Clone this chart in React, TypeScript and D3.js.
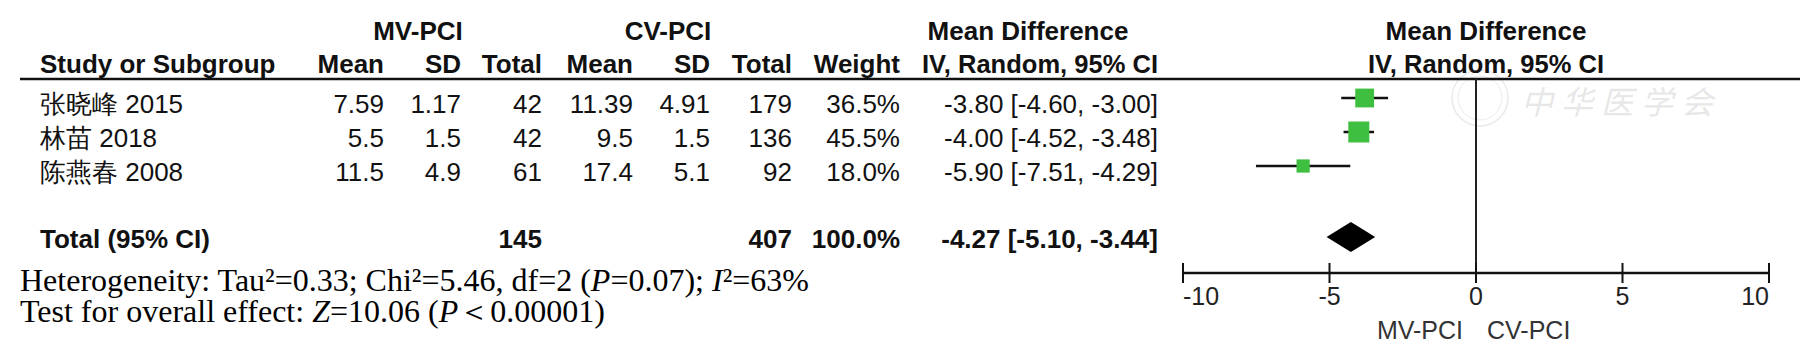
import React from "react";
import * as d3 from "d3";

const studies = ["张晓峰 2015", "林苗 2018", "陈燕春 2008"];
const mvMean = [7.59, 5.5, 11.5];
const mvSD = [1.17, 1.5, 4.9];
const mvTotal = [42, 42, 61];
const cvMean = [11.39, 9.5, 17.4];
const cvSD = [4.91, 1.5, 5.1];
const cvTotal = [179, 136, 92];
const weights = [36.5, 45.5, 18.0];
const md = [-3.8, -4.0, -5.9];
const ciLow = [-4.6, -4.52, -7.51];
const ciHigh = [-3.0, -3.48, -4.29];
const totalMv = 145;
const totalCv = 407;
const totalWeight = 100.0;
const pooled = -4.27;
const pooledLow = -5.1;
const pooledHigh = -3.44;
const ticks = [-10, -5, 0, 5, 10];

const W = 1807;
const H = 357;
const SANS = "'Liberation Sans', Arial, sans-serif";
const SERIF = "'Liberation Serif', 'Times New Roman', serif";

const fmt2 = (v: number) => v.toFixed(2);
const ciText = (m: number, l: number, h: number) => `${fmt2(m)} [${fmt2(l)}, ${fmt2(h)}]`;

export default function App() {
  const x = d3.scaleLinear().domain([-10, 10]).range([1183, 1769]);
  const size = d3.scaleSqrt().domain([0, 45.5]).range([0, 21]);
  const rowY = d3.scaleLinear().domain([0, 1]).range([113, 147]);
  const markOffset = -15;

  const colRight = { mvMean: 384, mvSD: 461, mvTotal: 542, cvMean: 633, cvSD: 710, cvTotal: 792, weight: 900, ci: 1158 };
  const fs = 26;
  const txt = { fontFamily: SANS, fontSize: fs, fill: "#111" } as const;
  const bold = { ...txt, fontWeight: 700 } as const;

  const axisY = 273;
  const lineTop = 79;
  const totalY = 248;

  return (
    <svg width={W} height={H} style={{ position: "absolute", left: 0, top: 0, background: "#fff" }}>
      <rect x={0} y={0} width={W} height={H} fill="#fff" />
      {/* watermark */}
      <g opacity={0.15}>
        <circle cx={1480} cy={98} r={28} fill="none" stroke="#777" strokeWidth={1.5} />
        <circle cx={1480} cy={98} r={22} fill="none" stroke="#777" strokeWidth={1} />
        <text x={1521} y={114} fontFamily="'Noto Sans CJK SC'" fontSize={32} fontStyle="italic" fill="#666" letterSpacing={8}>中华医学会</text>
      </g>

      {/* headers row 1 */}
      <text x={418} y={40} textAnchor="middle" {...bold}>MV-PCI</text>
      <text x={668} y={40} textAnchor="middle" {...bold}>CV-PCI</text>
      <text x={1028} y={40} textAnchor="middle" {...bold}>Mean Difference</text>
      <text x={1486} y={40} textAnchor="middle" {...bold}>Mean Difference</text>

      {/* headers row 2 */}
      <text x={40} y={73} {...bold}>Study or Subgroup</text>
      <text x={colRight.mvMean} y={73} textAnchor="end" {...bold}>Mean</text>
      <text x={colRight.mvSD} y={73} textAnchor="end" {...bold}>SD</text>
      <text x={colRight.mvTotal} y={73} textAnchor="end" {...bold}>Total</text>
      <text x={colRight.cvMean} y={73} textAnchor="end" {...bold}>Mean</text>
      <text x={colRight.cvSD} y={73} textAnchor="end" {...bold}>SD</text>
      <text x={colRight.cvTotal} y={73} textAnchor="end" {...bold}>Total</text>
      <text x={colRight.weight} y={73} textAnchor="end" {...bold}>Weight</text>
      <text x={colRight.ci - 236} y={73} textLength={236} lengthAdjust="spacingAndGlyphs" {...bold}>IV, Random, 95% CI</text>
      <text x={1486 - 118} y={73} textLength={236} lengthAdjust="spacingAndGlyphs" {...bold}>IV, Random, 95% CI</text>

      <line x1={20} x2={1800} y1={lineTop} y2={lineTop} stroke="#111" strokeWidth={2.5} />

      {/* study rows */}
      {studies.map((s, i) => {
        const y = rowY(i);
        const half = size(weights[i]) / 2;
        const cy = y + markOffset;
        return (
          <g key={s}>
            <text x={40} y={y} {...txt}>{s}</text>
            <text x={colRight.mvMean} y={y} textAnchor="end" {...txt}>{String(mvMean[i])}</text>
            <text x={colRight.mvSD} y={y} textAnchor="end" {...txt}>{String(mvSD[i])}</text>
            <text x={colRight.mvTotal} y={y} textAnchor="end" {...txt}>{String(mvTotal[i])}</text>
            <text x={colRight.cvMean} y={y} textAnchor="end" {...txt}>{String(cvMean[i])}</text>
            <text x={colRight.cvSD} y={y} textAnchor="end" {...txt}>{String(cvSD[i])}</text>
            <text x={colRight.cvTotal} y={y} textAnchor="end" {...txt}>{String(cvTotal[i])}</text>
            <text x={colRight.weight} y={y} textAnchor="end" {...txt}>{weights[i].toFixed(1) + "%"}</text>
            <text x={colRight.ci} y={y} textAnchor="end" {...txt}>{ciText(md[i], ciLow[i], ciHigh[i])}</text>
            <line x1={x(ciLow[i])} x2={x(ciHigh[i])} y1={cy} y2={cy} stroke="#111" strokeWidth={2.5} />
            <rect x={x(md[i]) - half} y={cy - half} width={half * 2} height={half * 2} fill="#3fbf3f" />
          </g>
        );
      })}

      {/* total row */}
      <text x={40} y={totalY} {...bold}>Total (95% CI)</text>
      <text x={colRight.mvTotal} y={totalY} textAnchor="end" {...bold}>{String(totalMv)}</text>
      <text x={colRight.cvTotal} y={totalY} textAnchor="end" {...bold}>{String(totalCv)}</text>
      <text x={colRight.weight} y={totalY} textAnchor="end" {...bold}>{totalWeight.toFixed(1) + "%"}</text>
      <text x={colRight.ci} y={totalY} textAnchor="end" {...bold}>{ciText(pooled, pooledLow, pooledHigh)}</text>
      <path
        d={`M${x(pooledLow)},237 L${x(pooled)},222 L${x(pooledHigh)},237 L${x(pooled)},252 Z`}
        fill="#000"
      />

      {/* footer */}
      <text x={20} y={291} fontFamily={SERIF} fontSize={32} fill="#000">
        Heterogeneity: Tau²=0.33; Chi²=5.46, df=2 (<tspan fontStyle="italic">P</tspan>=0.07); <tspan fontStyle="italic">I</tspan>²=63%
      </text>
      <text x={20} y={322} fontFamily={SERIF} fontSize={32} fill="#000">
        Test for overall effect: <tspan fontStyle="italic">Z</tspan>=10.06 (<tspan fontStyle="italic">P</tspan>＜0.00001)
      </text>

      {/* zero line */}
      <line x1={x(0)} x2={x(0)} y1={lineTop} y2={axisY + 10} stroke="#222" strokeWidth={2} />

      {/* axis */}
      <line x1={x(-10)} x2={x(10)} y1={axisY} y2={axisY} stroke="#111" strokeWidth={2.5} />
      {ticks.map((t, i) => (
        <g key={t}>
          <line x1={x(t)} x2={x(t)} y1={axisY - 10} y2={axisY + 10} stroke="#111" strokeWidth={2} />
          <text
            x={x(t)}
            y={305}
            textAnchor={i === 0 ? "start" : i === ticks.length - 1 ? "end" : "middle"}
            fontFamily={SANS}
            fontSize={25}
            fill="#222"
          >
            {String(t)}
          </text>
        </g>
      ))}
      <text x={x(0) - 13} y={339} textAnchor="end" fontFamily={SANS} fontSize={25} fill="#333">MV-PCI</text>
      <text x={x(0) + 11} y={339} textAnchor="start" fontFamily={SANS} fontSize={25} fill="#333">CV-PCI</text>
    </svg>
  );
}
